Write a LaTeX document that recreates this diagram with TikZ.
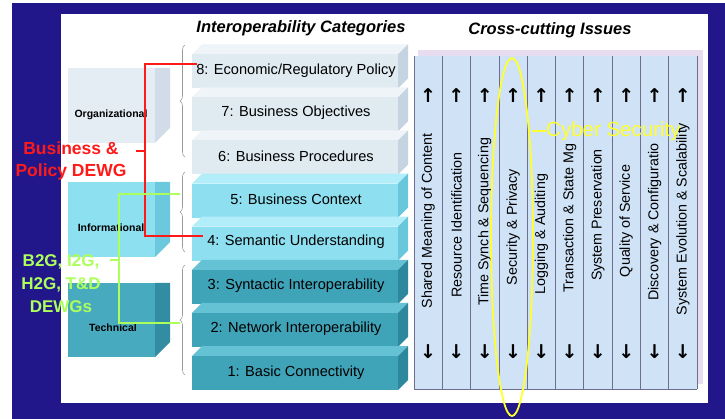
\documentclass[tikz,border=0pt]{standalone}
\usepackage{fontspec}
\setmainfont{Liberation Sans}
\newfontfamily\arrowfont{DejaVu Sans}
\usepackage{xcolor}
\usetikzlibrary{decorations.pathreplacing}

\definecolor{slidebg}{HTML}{21178A}
\definecolor{orgfront}{HTML}{E4ECF4}
\definecolor{orgside}{HTML}{D2DCE8}
\definecolor{inffront}{HTML}{8CE0F0}
\definecolor{infside}{HTML}{6CC8DD}
\definecolor{techfront}{HTML}{48AABF}
\definecolor{techside}{HTML}{328CA2}
\definecolor{litefront}{HTML}{DFEAF1}
\definecolor{litetop}{HTML}{EEF4F8}
\definecolor{liteside}{HTML}{C6D3E0}
\definecolor{cyanfront}{HTML}{8EE0F1}
\definecolor{cyantop}{HTML}{B2EEF9}
\definecolor{cyanside}{HTML}{69C7DC}
\definecolor{tealfront}{HTML}{40A4B9}
\definecolor{tealtop}{HTML}{64C2D4}
\definecolor{tealside}{HTML}{2D879D}
\definecolor{issueback}{HTML}{E8DDF0}
\definecolor{issuefill}{HTML}{CFE2F6}
\definecolor{issueline}{HTML}{6E6E8E}
\definecolor{bracegrey}{HTML}{9A9A9A}
\definecolor{dewgred}{HTML}{FF1A1A}
\definecolor{dewggreen}{HTML}{ADFF5C}
\definecolor{cyberyellow}{HTML}{FFFF2E}

% front x1,y1,x2,y2, depth, front, top, side
\newcommand{\slab}[8]{%
  \fill[#7] (#1,#2) -- (#1+#5,#2-#5) -- (#3+#5,#2-#5) -- (#3,#2) -- cycle;
  \fill[#8] (#3,#2) -- (#3+#5,#2-#5) -- (#3+#5,#4-#5) -- (#3,#4) -- cycle;
  \fill[#6] (#1,#2) rectangle (#3,#4);}
% front x1,y1,x2,y2, depth, front, side
\newcommand{\cube}[7]{%
  \fill[#7] (#3,#2) -- (#3+#5,#2) -- (#3+#5,#4-#5) -- (#3,#4) -- cycle;
  \fill[#6] (#1,#2) rectangle (#3,#4);}

\begin{document}
\begin{tikzpicture}[x=1pt,y=-1pt]
\tikzstyle{heading} = [font=\fontsize{16.5}{18}\selectfont\bfseries\itshape, inner sep=0pt]
\tikzstyle{cat} = [font=\fontsize{14.6}{16}\selectfont, inner sep=0pt]
\tikzstyle{cubelbl} = [font=\fontsize{10.5}{12}\selectfont\bfseries, inner sep=0pt]
\tikzstyle{issue} = [font=\fontsize{14.3}{15}\selectfont, rotate=90, inner sep=0pt]
\tikzstyle{tip} = [font=\arrowfont\bfseries\fontsize{19}{20}\selectfont, inner sep=0pt]
\tikzstyle{dewg} = [font=\fontsize{17.5}{22}\selectfont\bfseries, align=center, inner sep=0pt]
\tikzstyle{redline} = [draw=dewgred, line width=1.3pt]
\tikzstyle{greenline} = [draw=dewggreen, line width=1.1pt]
\tikzstyle{grp} = [draw=bracegrey, line width=0.6pt, decorate,
  decoration={brace, amplitude=5pt}]

% slide
\useasboundingbox (0,0) rectangle (725,419);
\fill[white] (0,0) rectangle (725,419);
\fill[slidebg] (12,3) rectangle (725,419);
\fill[white] (61,14) rectangle (708,403);

\node[heading] (ictitle) at (301,28) {Interoperability Categories};
\node[heading] (cctitle) at (550,30) {Cross-cutting Issues};

% left cubes
\cube{68}{68}{155}{143}{15}{orgfront}{orgside}
\cube{68}{182}{155}{257}{15}{inffront}{infside}
\cube{68}{283}{155}{357}{15}{techfront}{techside}
\node[cubelbl] (org) at (111,115) {Organizational};
\node[cubelbl] (inf) at (111,228) {Informational};
\node[cubelbl] (tech) at (113,328) {Technical};

% category slabs, top one first
\foreach \i in {8,7,6} {
  \pgfmathsetmacro\yt{373-(\i-1)*43.1-17}
  \pgfmathsetmacro\yb{373-(\i-1)*43.1+17}
  \slab{192}{\yt}{398}{\yb}{10}{litefront}{litetop}{liteside}
}
\foreach \i in {5,4} {
  \pgfmathsetmacro\yt{373-(\i-1)*43.1-17}
  \pgfmathsetmacro\yb{373-(\i-1)*43.1+17}
  \slab{192}{\yt}{398}{\yb}{10}{cyanfront}{cyantop}{cyanside}
}
\foreach \i in {3,2,1} {
  \pgfmathsetmacro\yt{373-(\i-1)*43.1-17}
  \pgfmathsetmacro\yb{373-(\i-1)*43.1+17}
  \slab{192}{\yt}{398}{\yb}{10}{tealfront}{tealtop}{tealside}
}
\node[cat] (c8) at (296,71) {8: Economic/Regulatory Policy};
\node[cat] (c7) at (296,113) {7: Business Objectives};
\node[cat] (c6) at (296,156) {6: Business Procedures};
\node[cat] (c5) at (296,199) {5: Business Context};
\node[cat] (c4) at (296,242) {4: Semantic Understanding};
\node[cat] (c3) at (296,286) {3: Syntactic Interoperability};
\node[cat] (c2) at (296,329) {2: Network Interoperability};
\node[cat] (c1) at (296,373) {1: Basic Connectivity};

% braces
\draw[grp] (185,157) -- (185,45);
\draw[grp] (185,252) -- (185,172);
\draw[grp] (185,375) -- (185,265);

% cross-cutting issues
\fill[issueback] (418,50) rectangle (703,384);
\fill[issuefill] (414,56) rectangle (697,389);
\foreach \k in {0,...,10}
  \draw[issueline, line width=0.8pt] (414+\k*28.3,56) -- (414+\k*28.3,389);
\draw[issueline, line width=0.8pt] (414,389) -- (697,389);
\foreach \k/\ty/\lbl in {1/221/Shared Meaning of Content,
    2/225/Resource Identification,
    3/222/Time Synch \& Sequencing,
    4/227/Security \& Privacy,
    5/234/Logging \& Auditing,
    6/218/Transaction \& State Mg,
    7/215/System Preservation,
    8/221/Quality of Service,
    9/222/Discovery \& Configuratio,
    10/219/System Evolution \& Scalability} {
  \node[issue] (col\k) at (414+\k*28.3-14.15,\ty) {\lbl};
  \node[tip] (up\k) at (414+\k*28.3-14.15,96) {↑};
  \node[tip] (dn\k) at (414+\k*28.3-14.15,352) {↓};
}

% cyber security
\draw[cyberyellow, line width=1.8pt] (512,237) ellipse [x radius=21, y radius=179];
\node[font=\fontsize{20.5}{22}\selectfont, text=cyberyellow, anchor=west, inner sep=0pt]
  (cyber) at (546,131) {Cyber Security};
\draw[cyberyellow, line width=1.2pt] (532,131) -- (cyber.west);

% business & policy DEWG
\node[dewg, text=dewgred] (bpdewg) at (71,161) {Business \&\\Policy DEWG};
\coordinate (r8) at (197,64);
\coordinate (rtop) at (145,64);
\coordinate (rbot) at (145,236);
\coordinate (r4) at (203,236);
\coordinate (rtick) at (136,151);
\coordinate (rmid) at (145,151);
\draw[redline] (r8) -- (rtop) -- (rbot) -- (r4);
\draw[redline] (rtick) -- (rmid);

% B2G, I2G, H2G, T&D DEWGs
\node[dewg, text=dewggreen, font=\fontsize{17}{23}\selectfont\bfseries] (gdewg) at (61,284)
  {B2G, I2G,\\H2G, T\&D\\DEWGs};
\coordinate (g5) at (180,194);
\coordinate (gtop) at (119,194);
\coordinate (gbot) at (119,323);
\coordinate (g3) at (180,323);
\coordinate (gtick) at (110,260);
\coordinate (gmid) at (119,260);
\draw[greenline] (g5) -- (gtop) -- (gbot) -- (g3);
\draw[greenline] (gtick) -- (gmid);

\end{tikzpicture}
\end{document}
